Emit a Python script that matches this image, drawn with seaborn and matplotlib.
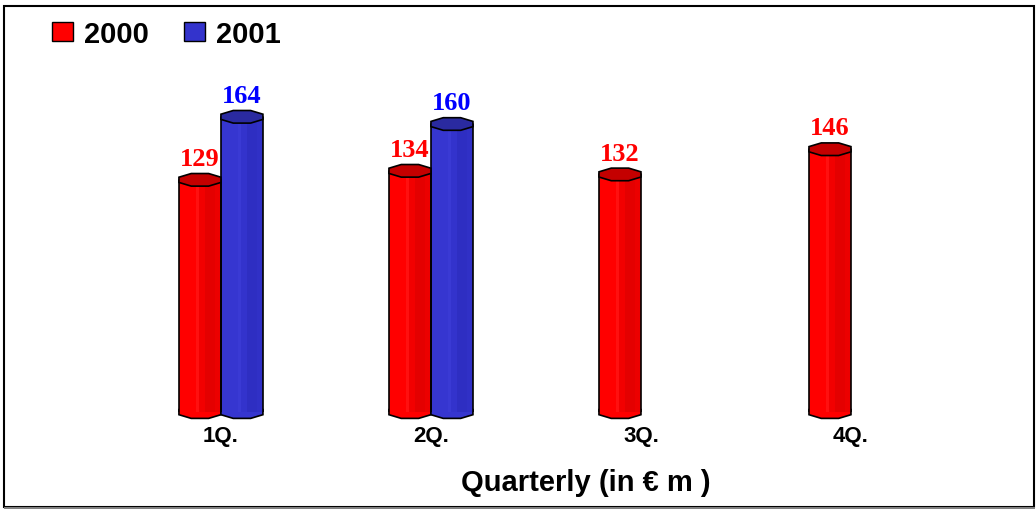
import matplotlib
matplotlib.use("Agg")
import numpy as np
import pandas as pd
import seaborn as sns
import matplotlib.pyplot as plt
from matplotlib.patches import Rectangle, Polygon, Patch

# données
quarters = ["1Q.", "2Q.", "3Q.", "4Q."]
years = ["2000", "2001"]
sales_2000 = [129, 134, 132, 146]
sales_2001 = [164, 160, np.nan, np.nan]

bar_colors = {"2000": "#FF0000", "2001": "#3333CC"}
cap_colors = {"2000": "#C40000", "2001": "#2A2AA0"}
shade_colors = {"2000": ["#FF0000", "#FF1010", "#F20000", "#E40000", "#EC0000"],
                "2001": ["#3636D0", "#3A3AD4", "#3333CC", "#2E2EC2", "#3030C6"]}
shade_fracs = [0.0, 0.40, 0.48, 0.62, 0.86, 1.0]
label_colors = {"2000": "#FF0000", "2001": "#0000FF"}

df = pd.DataFrame({"quarter": quarters * 2,
                   "year": [years[0]] * 4 + [years[1]] * 4,
                   "value": sales_2000 + sales_2001})

sns.set_style("white")
plt.rcParams["font.family"] = ["Liberation Sans", "DejaVu Sans"]
plt.rcParams["text.color"] = "black"
plt.rcParams["xtick.color"] = "black"

fig = plt.figure(figsize=(10.36, 5.10), dpi=100)
ax = fig.add_axes([0.0, 0.19, 1.0, 0.692])

sns.barplot(data=df, x="quarter", y="value", hue="year", order=quarters, hue_order=years,
            palette=bar_colors, width=0.4, errorbar=None, linewidth=0, legend=False, ax=ax)

ax.set_xlim(-1.052, 3.881)
ax.set_ylim(0, 196)

# hauteur des ellipses (en unités de données)
px_per_unit = 0.692 * 510 / 196
cap_h = 6.3 / px_per_unit

ang = np.deg2rad(22.5 + 45 * np.arange(8))


def octagon(xc, yc, w):
    rx = (w / 2) / np.cos(np.deg2rad(22.5))
    ry = cap_h / np.sin(np.deg2rad(67.5))
    return np.column_stack([xc + rx * np.cos(ang), yc + ry * np.sin(ang)])


for year, container in zip(years, ax.containers):
    for bar in container:
        h = bar.get_height()
        if np.isnan(h) or h == 0:
            continue
        x0, w = bar.get_x(), bar.get_width()
        xc = x0 + w / 2
        # bandes de couleur pour l'effet cylindre
        for i, c in enumerate(shade_colors[year]):
            ax.add_patch(Rectangle((x0 + shade_fracs[i] * w, 0), (shade_fracs[i + 1] - shade_fracs[i]) * w, h,
                                   facecolor=c, edgecolor="none", zorder=2))
        # fond arrondi
        ax.add_patch(Polygon(octagon(xc, 0, w), closed=True, facecolor=shade_colors[year][0],
                             edgecolor="black", linewidth=1.2, zorder=1.5, clip_on=False))
        ax.plot([x0, x0], [0, h], color="black", linewidth=1.2, zorder=3)
        ax.plot([x0 + w, x0 + w], [0, h], color="black", linewidth=1.2, zorder=3)
        # couvercle
        ax.add_patch(Polygon(octagon(xc, h, w), closed=True, facecolor=cap_colors[year],
                             edgecolor="black", linewidth=1.2, zorder=4))
        ax.annotate(f"{int(h)}", (xc, h), xytext=(0, 7), textcoords="offset points",
                    ha="center", va="bottom", color=label_colors[year],
                    fontfamily="Liberation Serif", fontweight="bold", fontsize=19, zorder=5)

for s in ax.spines.values():
    s.set_visible(False)
ax.set_yticks([])
ax.set_xlabel("")
ax.set_ylabel("")
ax.tick_params(axis="x", length=0, pad=9, labelsize=16, labelcolor="black")
for t in ax.get_xticklabels():
    t.set_fontweight("bold")

fig.text(0.565, 0.053, "Quarterly (in € m )", ha="center", va="center",
         fontsize=21, fontweight="bold", color="black")

handles = [Patch(facecolor=bar_colors[y], edgecolor="black", linewidth=1.0, label=y) for y in years]
fig.legend(handles=handles, loc="center left", bbox_to_anchor=(0.025, 0.932), ncol=2,
           frameon=False, handlelength=0.7, handleheight=0.62,
           handletextpad=0.4, columnspacing=1.2, prop={"weight": "bold", "size": 21})

# cadre
fig.patches.append(Rectangle((4 / 1036, 2 / 510), 1030 / 1036, 501 / 510, transform=fig.transFigure,
                             fill=False, edgecolor="black", linewidth=1.5))
fig.patches.append(Rectangle((4 / 1036, 0.5 / 510), 1031 / 1036, 1.5 / 510, transform=fig.transFigure,
                             facecolor="#808080", edgecolor="none"))

fig.savefig("out.png", dpi=100)
